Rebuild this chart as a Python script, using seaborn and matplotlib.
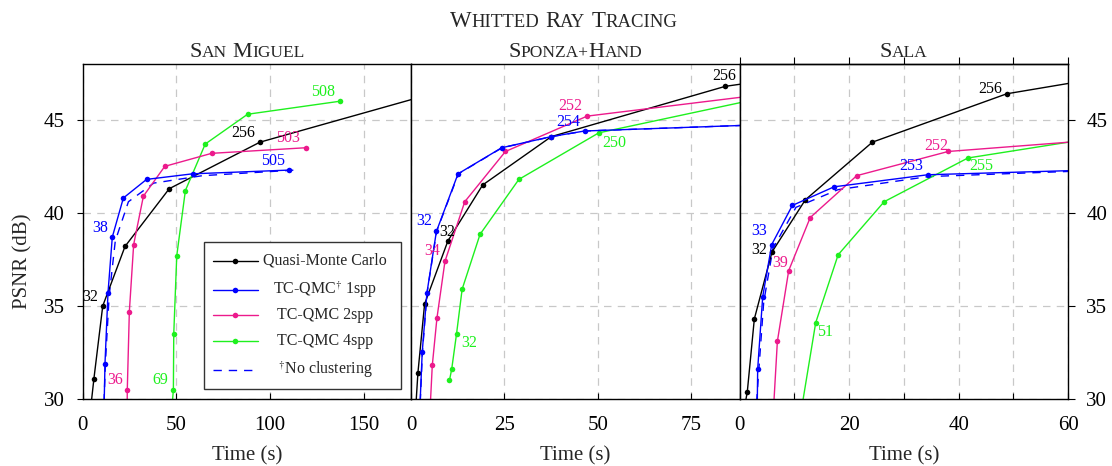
import matplotlib
matplotlib.use("Agg")
import matplotlib.pyplot as plt
import matplotlib.transforms as mtransforms
from matplotlib.lines import Line2D
from matplotlib.patches import Rectangle
import seaborn as sns

sns.set_theme(style="ticks")
plt.rcParams.update({
    "font.family": ["Liberation Serif", "DejaVu Serif"],
    "mathtext.fontset": "stix",
    "font.size": 15,
    "axes.edgecolor": "black",
    "axes.linewidth": 1.0,
    "xtick.color": "black",
    "ytick.color": "black",
})

# ── colours ────────────────────────────────────────────────────────────────
COL = {"qmc": "black", "tc1": "#0000ff", "nc": "#0000ff",
       "tc2": "#ec1a8c", "tc4": "#1ef01e"}

# ── San Miguel ─────────────────────────────────────────────────────────────
sm_qmc_t = [3.8, 6.1, 10.8, 22.7, 46.3, 94.7, 190.0]
sm_qmc_p = [29.0, 31.1, 35.0, 38.2, 41.3, 43.8, 46.5]
sm_tc1_t = [11.4, 12.0, 13.6, 15.9, 21.8, 34.2, 58.8, 110.4]
sm_tc1_p = [29.0, 31.9, 35.7, 38.7, 40.8, 41.8, 42.1, 42.3]
sm_nc_t = [11.2, 12.2, 14.2, 17.5, 24.5, 38.0, 64.0, 113.4]
sm_nc_p = [29.0, 31.9, 35.5, 38.5, 40.6, 41.6, 42.0, 42.3]
sm_tc2_t = [23.8, 23.9, 25.0, 27.3, 32.5, 43.9, 68.9, 119.1]
sm_tc2_p = [29.0, 30.5, 34.7, 38.3, 40.9, 42.5, 43.2, 43.5]
sm_tc4_t = [47.3, 48.5, 48.7, 50.3, 54.9, 65.5, 88.1, 137.4]
sm_tc4_p = [29.0, 30.5, 33.5, 37.7, 41.2, 43.7, 45.3, 46.0]
sm_lab_txt = ["32", "38", "36", "69", "256", "503", "505", "508"]
sm_lab_key = ["qmc", "tc1", "tc2", "tc4", "qmc", "tc2", "tc1", "tc4"]
sm_lab_x = [4.0, 9.3, 17.3, 41.4, 85.8, 109.8, 101.5, 128.2]
sm_lab_y = [35.5, 39.2, 31.0, 31.0, 44.3, 44.0, 42.8, 46.5]

# ── Sponza+Hand ────────────────────────────────────────────────────────────
sp_qmc_t = [1.1, 1.85, 3.64, 9.9, 19.2, 37.6, 84.2, 100.0]
sp_qmc_p = [29.0, 31.4, 35.1, 38.5, 41.5, 44.1, 46.8, 47.25]
sp_tc1_t = [2.27, 3.0, 4.27, 6.8, 12.6, 24.3, 37.6, 46.5, 100.0]
sp_tc1_p = [29.0, 32.5, 35.7, 39.0, 42.1, 43.5, 44.1, 44.4, 44.78]
sp_nc_t = [2.3, 3.05, 4.3, 6.85, 12.7, 24.4, 37.7, 46.6, 100.0]
sp_nc_p = [29.0, 32.5, 35.7, 39.0, 42.1, 43.5, 44.1, 44.4, 44.78]
sp_tc2_t = [5.0, 5.7, 6.95, 9.1, 14.4, 25.3, 47.2, 100.0]
sp_tc2_p = [29.0, 31.8, 34.35, 37.4, 40.6, 43.3, 45.2, 46.5]
sp_tc4_t = [10.3, 10.9, 12.2, 13.7, 18.5, 28.9, 50.3, 100.0]
sp_tc4_p = [31.0, 31.6, 33.5, 35.9, 38.85, 41.8, 44.3, 46.43]
sp_lab_txt = ["256", "252", "254", "250", "32", "32", "34", "32"]
sp_lab_key = ["qmc", "tc2", "tc1", "tc4", "tc1", "qmc", "tc2", "tc4"]
sp_lab_x = [84.0, 42.7, 42.0, 54.5, 3.46, 9.7, 5.7, 15.5]
sp_lab_y = [47.36, 45.74, 44.9, 43.76, 39.57, 38.97, 37.95, 33.0]

# ── Sala ───────────────────────────────────────────────────────────────────
sa_qmc_t = [0.57, 1.41, 2.69, 5.92, 12.0, 24.25, 48.8, 65.0]
sa_qmc_p = [29.0, 30.4, 34.3, 37.9, 40.7, 43.8, 46.4, 47.2]
sa_tc1_t = [3.2, 3.3, 4.22, 5.87, 9.63, 17.25, 34.4, 65.0]
sa_tc1_p = [29.0, 31.6, 35.5, 38.3, 40.4, 41.4, 42.05, 42.31]
sa_nc_t = [2.9, 3.5, 4.4, 6.1, 10.3, 18.0, 34.4, 65.0]
sa_nc_p = [29.0, 31.5, 35.2, 38.1, 40.3, 41.25, 41.95, 42.28]
sa_tc2_t = [6.1, 6.9, 8.97, 12.9, 21.4, 38.1, 65.0]
sa_tc2_p = [29.0, 33.1, 36.9, 39.75, 42.0, 43.3, 43.91]
sa_tc4_t = [11.05, 13.9, 18.0, 26.4, 41.7, 65.0]
sa_tc4_p = [29.0, 34.1, 37.75, 40.6, 42.95, 44.03]
sa_lab_txt = ["256", "252", "253", "255", "33", "32", "39", "51"]
sa_lab_key = ["qmc", "tc2", "tc1", "tc4", "tc1", "qmc", "tc2", "tc4"]
sa_lab_x = [45.75, 35.9, 31.4, 44.2, 3.6, 3.6, 7.4, 15.6]
sa_lab_y = [46.64, 43.6, 42.5, 42.5, 39.05, 38.0, 37.3, 33.6]

scenes = ["San Miguel", "Sponza+Hand", "Sala"]
x_max = [175.3, 88.0, 60.0]
x_major = [[0, 50, 100, 150], [0, 25, 50, 75], [0, 20, 40, 60]]
x_minor = [[], [], [10, 30, 50]]

legend_txt = ["Quasi-Monte Carlo", r"TC-QMC$^{\dagger}$ 1spp", "TC-QMC 2spp",
              "TC-QMC 4spp", r"$^{\dagger}$No clustering"]
legend_key = ["qmc", "tc1", "tc2", "tc4", "nc"]

W, H = 1112, 466
fig = plt.figure(figsize=(W / 100, H / 100), dpi=100)


def small_caps(text, xc, yb, big=16, small=12.5):
    """Texto em versalete: maiúsculas grandes, minúsculas em caixa alta menor."""
    r = fig.canvas.get_renderer()
    runs = []
    for ch in text:
        if ch == " ":
            runs.append((None, 0))
            continue
        fs = big if ch.isupper() else small
        if runs and runs[-1][0] is not None and runs[-1][1] == fs:
            runs[-1] = (runs[-1][0] + ch.upper(), fs)
        else:
            runs.append((ch.upper(), fs))
    gap = 0.25 * big * 100 / 72
    items, total = [], 0
    for s, fs in runs:
        if s is None:
            items.append((None, gap)); total += gap
            continue
        t = fig.text(0, 0, s, fontsize=fs, ha="left", va="baseline",
                     transform=mtransforms.IdentityTransform())
        w = t.get_window_extent(r).width
        items.append((t, w)); total += w
    x = xc - total / 2
    for t, w in items:
        if t is not None:
            t.set_position((x, H - yb))
        x += w


def draw_series(ax, key, t, p):
    if key == "nc":
        sns.lineplot(x=t, y=p, ax=ax, color=COL[key], lw=1.0,
                     linestyle=(0, (6, 5)), sort=False, estimator=None)
    else:
        sns.lineplot(x=t, y=p, ax=ax, color=COL[key], lw=1.0, marker="o",
                     markersize=4, markeredgewidth=0, markeredgecolor=COL[key],
                     sort=False, estimator=None)


series = [
    [("nc", sm_nc_t, sm_nc_p), ("qmc", sm_qmc_t, sm_qmc_p), ("tc4", sm_tc4_t, sm_tc4_p),
     ("tc2", sm_tc2_t, sm_tc2_p), ("tc1", sm_tc1_t, sm_tc1_p)],
    [("nc", sp_nc_t, sp_nc_p), ("qmc", sp_qmc_t, sp_qmc_p), ("tc4", sp_tc4_t, sp_tc4_p),
     ("tc2", sp_tc2_t, sp_tc2_p), ("tc1", sp_tc1_t, sp_tc1_p)],
    [("nc", sa_nc_t, sa_nc_p), ("qmc", sa_qmc_t, sa_qmc_p), ("tc4", sa_tc4_t, sa_tc4_p),
     ("tc2", sa_tc2_t, sa_tc2_p), ("tc1", sa_tc1_t, sa_tc1_p)],
]
labels = [
    (sm_lab_txt, sm_lab_key, sm_lab_x, sm_lab_y),
    (sp_lab_txt, sp_lab_key, sp_lab_x, sp_lab_y),
    (sa_lab_txt, sa_lab_key, sa_lab_x, sa_lab_y),
]

lefts = [82.5, 411.0, 739.6]
pw = 328.5
axes = []
for i in range(3):
    ax = fig.add_axes([lefts[i] / W, (H - 399) / H, pw / W, 335 / H])
    axes.append(ax)
    for key, t, p in series[i]:
        draw_series(ax, key, t, p)
    for txt, key, x, y in zip(*labels[i]):
        ax.text(x, y, txt, color=COL[key], fontsize=11.5, ha="center", va="center")

    ax.set_xlim(0, x_max[i]); ax.set_ylim(30, 48)
    ax.set_xticks(x_major[i]); ax.set_xticks(x_minor[i], minor=True)
    ax.set_yticks([30, 35, 40, 45])
    ax.set_axisbelow(True)
    ax.grid(True, which="both", color="#c8c8c8", ls=(0, (6, 5)), lw=0.9)
    ax.set_xlabel("Time (s)", fontsize=15, labelpad=7.5)
    ax.set_ylabel("")
    ax.tick_params(axis="x", which="both", direction="in", length=4, width=0.8,
                   pad=12.5, labelsize=15)
    for sp in ax.spines.values():
        sp.set_visible(True); sp.set_color("black"); sp.set_linewidth(1.0)
    if i == 0:
        ax.tick_params(axis="y", direction="out", length=4, width=0.8, pad=9,
                       labelsize=15)
    elif i == 1:
        ax.tick_params(axis="y", left=False, labelleft=False)
    else:
        ax.tick_params(axis="y", left=False, labelleft=False, right=True,
                       labelright=True, direction="out", length=5, width=0.8,
                       pad=8, labelsize=15)
        sec = ax.secondary_xaxis("top")
        sec.set_xticks(list(range(0, 61, 10)))
        sec.tick_params(axis="x", direction="out", length=5, width=0.8,
                        labeltop=False, labelbottom=False)

# ── legenda (texto centralizado, como no original) ─────────────────────────
ax0 = axes[0]
ax0.add_patch(Rectangle((0.370, 0.031), 0.599, 0.438, transform=ax0.transAxes,
                        fc="white", ec="#333333", lw=1.0, zorder=5))
leg_y = [0.413, 0.326, 0.250, 0.174, 0.0875]
for yy, key, txt in zip(leg_y, legend_key, legend_txt):
    if key == "nc":
        ax0.add_line(Line2D([0.396, 0.533], [yy, yy], transform=ax0.transAxes,
                            color=COL[key], lw=1.0, ls=(0, (6, 5)), zorder=6))
    else:
        ax0.add_line(Line2D([0.396, 0.533], [yy, yy], transform=ax0.transAxes,
                            color=COL[key], lw=1.0, zorder=6))
        ax0.add_line(Line2D([0.464], [yy], transform=ax0.transAxes, color=COL[key],
                            marker="o", markersize=4, markeredgewidth=0, zorder=6))
    ax0.text(0.738, yy, txt, transform=ax0.transAxes, ha="center", va="center",
             fontsize=11.5, zorder=7)

fig.text(23 / W, (H - 261) / H, "PSNR (dB)", rotation=90, ha="center",
         va="center", fontsize=15)

small_caps("Whitted Ray Tracing", 563.5, 27.3, big=16.5, small=13.5)
for i, name in enumerate(scenes):
    small_caps(name, lefts[i] + pw / 2, 57.3)

fig.savefig("out.png", dpi=100)
plt.close(fig)
